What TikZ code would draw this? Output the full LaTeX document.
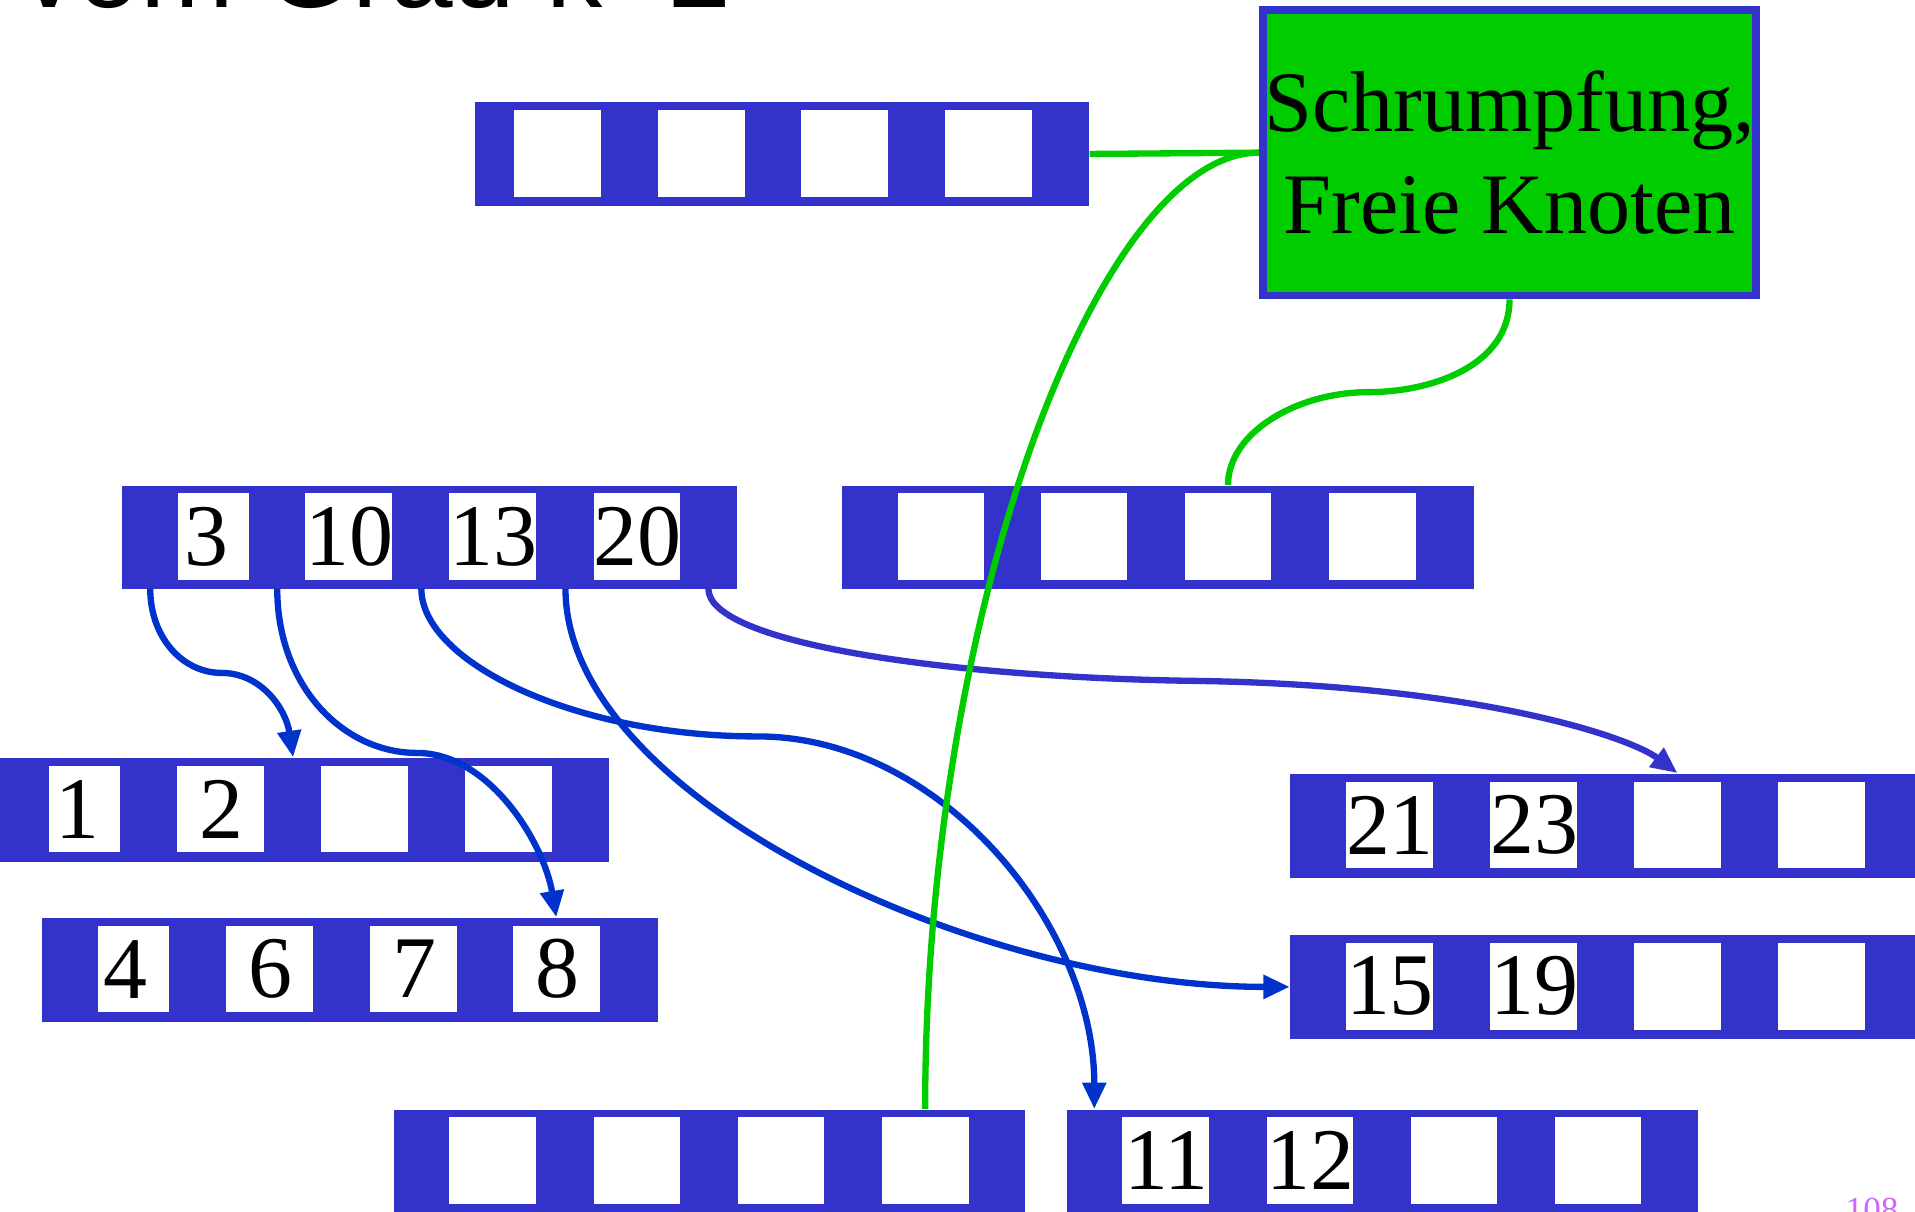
\documentclass[tikz,border=0pt]{standalone}
\usepackage{fontspec}
\setmainfont{Liberation Serif}
\newfontfamily\titelfont{Liberation Sans}
\usepackage{xcolor}
\usepackage{tikz}
\usetikzlibrary{arrows.meta, positioning, calc}
\definecolor{SeitenBlau}{RGB}{51, 51, 204}
\definecolor{ZeigerBlau}{RGB}{0, 51, 204}
\definecolor{FreiGruen}{RGB}{0, 204, 0}
\definecolor{NummerLila}{RGB}{204, 102, 255}
\newlength{\pxl}
\setlength{\pxl}{0.012213cm}

\tikzset{
  seite/.style={fill=SeitenBlau, inner sep=0pt, minimum height=85*\pxl, anchor=north west},
  slot/.style={fill=white, inner sep=0pt, minimum height=71*\pxl},
  zahl/.style={inner sep=0pt, font=\fontsize{25}{30}\selectfont},
  zeiger/.style={draw=ZeigerBlau, line width=1.8pt, -{Triangle[length=7.5pt, width=6.5pt]}},
  gruen/.style={draw=FreiGruen, line width=1.8pt},
  gruenbox/.style={fill=FreiGruen, draw=SeitenBlau, line width=2.2pt, minimum width=404*\pxl,
    minimum height=234*\pxl, inner sep=0pt, align=center, font=\fontsize{24.5}{29}\selectfont}
}

\newcommand{\seitenknoten}[5]{%
  \node[seite, minimum width=#4*\pxl] (#1) at (#2,#3) {};
  \foreach \off/\wid/\lab [count=\nr] in {#5} {
    \node[slot, minimum width=\wid*\pxl] (#1\nr) at (#2+\off+\wid/2, #3+42.5) {};
    \node[zahl] (#1z\nr) at ([xshift=-35.5*\pxl]#1\nr.east) {\lab};
    \coordinate (#1p\nr) at (#2+\off-23, #3+85);
    \coordinate (#1q\nr) at (#2+\off-23, #3);
  }
  \coordinate (#1p5) at (#2+#4-23, #3+85);
}

\begin{document}
\begin{tikzpicture}[x=\pxl, y=-\pxl]
  \useasboundingbox (0,0) rectangle (1568,992);
  \clip (0,0) rectangle (1568,992);

  \node[anchor=base west, inner sep=0pt, font=\titelfont\fontsize{32}{36}\selectfont] (titel) at (17,6) {vom Grad k=2};

  \seitenknoten{rA}{388}{83}{503}{33/71/{},151/71/{},268/71/{},386/71/{}}
  \seitenknoten{rB}{99}{397}{504}{47/58/3,151/71/10,269/71/13,387/71/20}
  \seitenknoten{rC}{689}{397}{517}{46/71/{},163/71/{},281/71/{},399/71/{}}
  \seitenknoten{rD}{-7}{620}{505}{47/58/1,152/71/2,270/71/{},388/71/{}}
  \seitenknoten{rE}{34}{751}{504}{46/58/4,151/71/6,269/71/7,386/71/8}
  \seitenknoten{rF}{1056}{633}{517}{46/71/21,164/71/23,282/71/{},400/71/{}}
  \seitenknoten{rG}{1056}{765}{517}{46/71/15,164/71/19,282/71/{},400/71/{}}
  \seitenknoten{rH}{322}{908}{517}{46/71/{},164/71/{},282/71/{},400/71/{}}
  \seitenknoten{rI}{873}{908}{517}{46/71/11,164/71/12,282/71/{},400/71/{}}

  \node[gruenbox] (frei) at (1236,125) {Schrumpfung,\\Freie Knoten};

  \coordinate (rCziel) at (rC3 |- rC.north);
  \coordinate (rEziel) at (rE4 |- rE.north);
  \coordinate (rFziel) at (rF3 |- rF.north);
  \coordinate (rHziel) at (rH4 |- rH.north);
  \coordinate (knick3) at ([yshift=92*\pxl]$(rBp3)!.5!(rIq1)$);

  \draw[zeiger] (rBp1) .. controls +(0,40) and +(-32,0) .. ($(rBp1)!.5!(rDq3)$)
    .. controls +(32,0) and +(-6,-40) .. (rDq3);
  \draw[zeiger] (rBp2) .. controls +(0,80) and +(-60,0) .. ($(rBp2)!.5!(rEziel)$)
    .. controls +(60,0) and +(-10,-60) .. (rEziel);
  \draw[zeiger] (rBp3) .. controls +(0,60) and +(-150,0) .. (knick3)
    .. controls +(150,0) and +(0,-150) .. (rIq1);
  \draw[zeiger] (rBp4) .. controls +(0,170) and +(-260,0) .. (rG.west);
  \draw[zeiger, draw=SeitenBlau] (rBp5) .. controls +(0,45) and +(-200,-3) .. ($(rBp5)!.5!(rFziel)$)
    .. controls +(230,3) and +(-40,-30) .. (rFziel);

  \draw[gruen] (rA.east) -- (frei.west);
  \draw[gruen] (frei.west) .. controls +(-131,0) and +(0,-408) .. (rHziel);
  \draw[gruen] (frei.south) .. controls +(0,55) and +(50,0) .. ($(frei.south)!.5!(rCziel)$)
    .. controls +(-60,0) and +(0,-42) .. (rCziel);

  \node[anchor=base east, inner sep=0pt, text=NummerLila, font=\fontsize{10}{12}\selectfont] (seitennr) at (1555,1000) {108};
\end{tikzpicture}
\end{document}
